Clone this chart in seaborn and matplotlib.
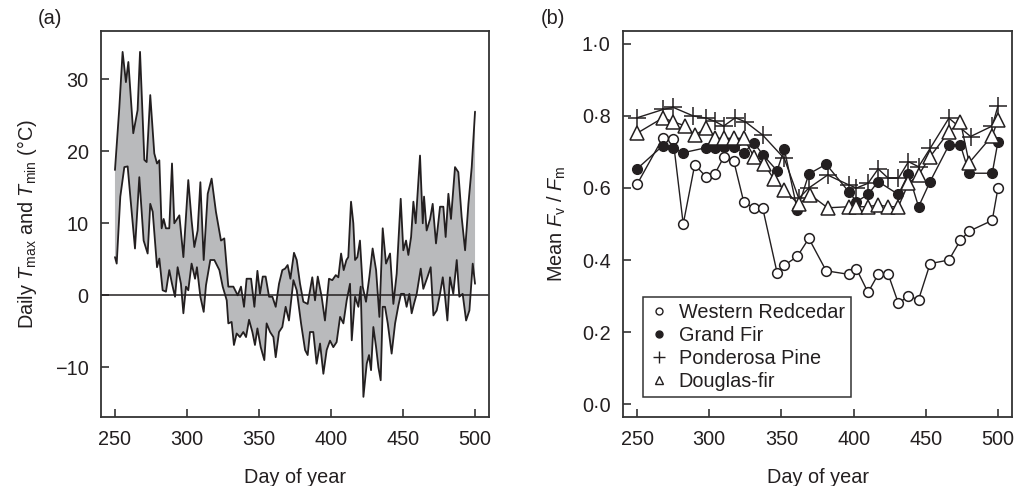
import numpy as np
import pandas as pd
import matplotlib
matplotlib.use("Agg")
import matplotlib.pyplot as plt
from matplotlib.lines import Line2D
import seaborn as sns

# ---------------- Panel (a) data: daily Tmax / Tmin ----------------
tmax_day = [250, 253, 255.3, 257.6, 259.3, 262.7, 265.7, 267.4, 270.4, 272, 274.5, 277.3, 279.2, 280.8,
            282.4, 283.8, 285.4, 287.7, 289.6, 291.2, 294.7, 297.5, 300.9, 303.2, 305.1, 307.4, 309.3,
            311.6, 314.4, 317.1, 320.1, 323.6, 325.9, 328.7, 331.0, 332.2, 335.2, 337.5, 339.6, 341.4,
            344.5, 346.8, 348.9, 350.7, 352.6, 354.6, 357, 359.3, 361.6, 363.9, 366.2, 368.1, 369.9,
            371.8, 374.3, 376.2, 378.5, 380.8, 383.8, 387, 388.9, 390.8, 393.5, 395.8, 398.6, 400.9,
            403.3, 405.1, 407, 408.8, 410.7, 412, 413.9, 415.5, 416.7, 418.3, 420.1, 422, 424.3, 426.6,
            428.9, 431.3, 433.6, 435.9, 438.2, 441, 443.3, 445.6, 448.4, 450.2, 452.1, 453.7, 455.6,
            457.2, 458.8, 461.8, 463.7, 464.6, 466.4, 468.8, 470.6, 472.9, 475.7, 478, 479.6, 481.5,
            483.3, 486.1, 488.4, 490.7, 493.1, 495.4, 497.7, 500]
tmax = [17.4, 26.0, 33.8, 29.6, 32.4, 22.5, 25.7, 33.8, 18.8, 18.5, 27.8, 19.7, 18.3, 18.75,
        9.3, 10.6, 9.3, 9.3, 18.3, 10.0, 11.1, 5.3, 16.0, 10.4, 6.7, 9.0, 15.7,
        4.9, 14.1, 16.2, 11.6, 7.6, 7.9, 1.2, 1.2, 1.2, 0.0, 1.2, -1.6, 2.3,
        2.3, -1.6, 3.4, 0.2, 2.6, 2.6, -0.2, -0.2, -1.6, 1.6, 3.5, 3.7, 4.2,
        2.3, 5.9, 4.9, 1.6, -0.9, -1.2, 2.5, -0.7, 2.6, -0.2, -3.5, 2.3, 2.1,
        2.8, 2.5, 5.8, 3.5, 4.9, 5.3, 13.0, 10.0, 4.9, 5.3, 7.6, 1.2, -0.9, 2.5,
        6.5, 3.5, -3.0, 9.3, 4.4, 5.8, -1.2, 3.0, 13.4, 6.25, 7.6, 5.6, 8.1,
        13.0, 10.0, 19.4, 10.0, 13.7, 9.0, 10.6, 12.7, 7.2, 12.3, 12.3, 8.1, 14.1,
        10.6, 17.8, 17.1, 10.9, 6.25, 12.7, 17.8, 25.5]

tmin_day = [250, 251.2, 253.7, 256.5, 258.8, 261.1, 263.9, 266.9, 269.9, 272.7, 274.5, 276.2, 279.2,
            280.8, 283.1, 285.4, 287.7, 289.6, 291.7, 293.5, 295.8, 297.5, 299.3, 300.9, 303.2, 305.6,
            306.9, 309.3, 311.6, 313.2, 316.2, 319, 322.5, 324.8, 327.6, 328.7, 331.0, 332.6, 334.5,
            336.8, 339.1, 341, 343.1, 345.4, 347.2, 348.9, 351.2, 353.7, 355.3, 357.7, 360, 361.6,
            363.9, 366.2, 368.5, 370.8, 373.9, 376.2, 379.2, 382, 383.8, 385.4, 387.7, 390, 392.4,
            394.7, 397, 399.3, 401.6, 403.9, 406.3, 408.6, 410.9, 413.2, 414.4, 416.7, 419, 420.6,
            422.5, 424.8, 426.4, 427.8, 429.4, 431.3, 432.9, 434.5, 435.9, 437.5, 439.4, 442.1, 444.5,
            446.8, 448.6, 450.7, 452.5, 454.4, 456, 457.6, 459.5, 462.3, 464.1, 466.9, 469.2, 471.1,
            473.4, 475.7, 477.6, 479.2, 480.8, 482.6, 484.9, 487.3, 489.1, 491.4, 493.8, 496.1,
            498.4, 500]
tmin = [5.3, 4.4, 13.7, 17.8, 17.9, 12.7, 6.5, 16.4, 7.6, 5.8, 12.7, 11.6, 3.9,
        5.1, 0.7, 0.5, 3.5, 1.6, -0.2, 3.9, 1.6, -2.5, 1.2, 0.7, 4.4, 2.3,
        3.9, -0.2, -2.3, 1.4, 4.9, 4.9, 3.5, 1.2, -0.7, -3.9, -3.7, -6.9, -5.3,
        -5.8, -5.1, -5.8, -3.4, -5.1, -6.9, -4.6, -7.2, -9.0, -3.9, -5.1, -5.8, -8.6,
        -5.1, -4.4, -1.6, -3.5, 2.1, 0.7, -3.9, -7.6, -8.3, -5.1, -5.1, -9.5, -6.7,
        -10.9, -7.6, -6.3, -7.2, -6.5, -3.0, -3.9, -0.7, 1.6, -6.25, -0.2, -1.6, 1.2,
        -14.1, -9.5, -8.3, -10.4, -4.4, -7.2, -10.0, -11.8, -1.6, -1.6, -3.9, -8.1, -3.9,
        -1.4, 0.2, 0.2, -1.6, 0.2, -2.5, -1.2, 0.2, 3.7, 0.9, 2.5, 3.9, -2.8,
        -2.1, 0.2, 2.5, -0.2, -3.5, 2.5, 0.2, 4.9, -0.2, 0.2, -3.5, -2.1,
        4.4, 1.6]

# ---------------- Panel (b) data: mean Fv/Fm ----------------
wrc_day = [250, 268, 275, 282, 290, 298, 304, 310, 317, 324, 331, 337, 347, 352, 361, 369, 381,
           397, 402, 410, 417, 424, 431, 438, 445, 453, 466, 474, 480, 496, 500]
wrc = [0.61, 0.74, 0.735, 0.50, 0.665, 0.63, 0.64, 0.685, 0.675, 0.56, 0.545, 0.545, 0.365, 0.385,
       0.41, 0.46, 0.37, 0.36, 0.375, 0.31, 0.36, 0.36, 0.28, 0.30, 0.29, 0.39, 0.40, 0.455, 0.48,
       0.51, 0.60]

gf_day = [250, 268, 275, 282, 298, 304, 310, 317, 324, 331, 337, 347, 352, 361, 369, 381, 397,
          402, 410, 417, 431, 438, 445, 453, 466, 474, 480, 496, 500]
gf = [0.653, 0.718, 0.71, 0.698, 0.712, 0.712, 0.715, 0.715, 0.698, 0.726, 0.693, 0.648, 0.708,
      0.539, 0.639, 0.666, 0.588, 0.562, 0.582, 0.618, 0.582, 0.639, 0.548, 0.618, 0.719,
      0.719, 0.641, 0.641, 0.729]

pp_day = [250, 268, 275, 289, 298, 304, 310, 318, 325, 337, 352, 362, 369, 382, 397, 402, 410,
          417, 424, 431, 438, 445, 453, 466, 481, 496, 500]
pp = [0.795, 0.818, 0.824, 0.80, 0.794, 0.785, 0.772, 0.795, 0.784, 0.747, 0.682, 0.571, 0.60,
      0.636, 0.608, 0.60, 0.613, 0.653, 0.627, 0.627, 0.673, 0.659, 0.71, 0.794, 0.743, 0.772, 0.828]

df_day = [250, 268, 275, 283, 290, 298, 304, 310, 317, 324, 331, 338, 345, 352, 362, 370, 382,
          397, 402, 410, 417, 424, 431, 438, 445, 453, 466, 474, 480, 496, 500]
dfir = [0.752, 0.795, 0.784, 0.773, 0.747, 0.766, 0.738, 0.738, 0.738, 0.738, 0.687, 0.666, 0.624,
        0.594, 0.555, 0.581, 0.545, 0.548, 0.548, 0.548, 0.553, 0.548, 0.548, 0.613, 0.636, 0.687,
        0.756, 0.784, 0.67, 0.745, 0.789]

species = ["Western Redcedar", "Grand Fir", "Ponderosa Pine", "Douglas-fir"]

xticks = [250, 300, 350, 400, 450, 500]
a_yticks = [-10, 0, 10, 20, 30]
b_yticks = [0.0, 0.2, 0.4, 0.6, 0.8, 1.0]
b_ylabels = ["0·0", "0·2", "0·4", "0·6", "0·8", "1·0"]

# ---------------- style ----------------
sns.set_theme(style="ticks")
plt.rcParams["font.family"] = ["Liberation Sans", "DejaVu Sans"]
plt.rcParams["mathtext.fontset"] = "custom"
plt.rcParams["mathtext.rm"] = "Liberation Sans"
plt.rcParams["mathtext.it"] = "Liberation Sans:italic"
plt.rcParams["mathtext.bf"] = "Liberation Sans:bold"

FS = 14.3
ink = "#231f20"

fig = plt.figure(figsize=(10.22, 4.86), dpi=100)
axa = fig.add_axes([101 / 1022, 1 - 417 / 486, 388 / 1022, 386 / 486])
axb = fig.add_axes([623 / 1022, 1 - 417 / 486, 389 / 1022, 386 / 486])

for ax in (axa, axb):
    for s in ax.spines.values():
        s.set_color("#333333")
        s.set_linewidth(1.3)
    ax.tick_params(direction="in", length=6, width=1.2, color="#333333",
                   labelsize=FS, labelcolor=ink, pad=9)
    ax.set_xlim(240.3, 509.7)
    ax.set_xticks(xticks)
    ax.set_xlabel("Day of year", fontsize=FS, color=ink, labelpad=14)

# ---- panel (a)
poly_x = np.concatenate([tmax_day, tmin_day[::-1]])
poly_y = np.concatenate([tmax, tmin[::-1]])
axa.fill(poly_x, poly_y, color="#b9babc", lw=0, zorder=1)
axa.axhline(0, color=ink, lw=1.1, zorder=2)
sns.lineplot(x=tmax_day, y=tmax, ax=axa, sort=False, estimator=None, color=ink, lw=1.3, zorder=3)
sns.lineplot(x=tmin_day, y=tmin, ax=axa, sort=False, estimator=None, color=ink, lw=1.3, zorder=3)
axa.set_ylim(-16.9, 36.7)
axa.set_yticks(a_yticks)
axa.set_ylabel(r"Daily $T_{\rm max}$ and $T_{\rm min}$ (°C)", fontsize=FS, color=ink, labelpad=11)

# ---- panel (b)
styles = [
    dict(marker="o", ms=7, mfc="white", mec=ink, mew=1.1),
    dict(marker="o", ms=7, mfc=ink, mec=ink, mew=1.0),
    dict(marker="+", ms=13, mfc="none", mec=ink, mew=1.1),
    dict(marker="^", ms=10, mfc="white", mec=ink, mew=1.1),
]
series = [(wrc_day, wrc), (gf_day, gf), (pp_day, pp), (df_day, dfir)]
for (xd, yd), st in zip(series, styles):
    sns.lineplot(x=xd, y=yd, ax=axb, sort=False, estimator=None, color=ink, lw=1.0, **st)

axb.set_ylim(-0.036, 1.036)
axb.set_yticks(b_yticks)
axb.set_yticklabels(b_ylabels)
axb.set_ylabel(r"Mean $F_{\rm v}$ / $F_{\rm m}$", fontsize=FS, color=ink, labelpad=10)

leg_styles = [
    dict(marker="o", ms=5, mfc="white", mec=ink, mew=1.0),
    dict(marker="o", ms=5, mfc=ink, mec=ink, mew=1.0),
    dict(marker="+", ms=9, mfc="none", mec=ink, mew=1.0),
    dict(marker="^", ms=6, mfc="white", mec=ink, mew=1.0),
]
handles = [Line2D([], [], ls="none", **st) for st in leg_styles]
leg = axb.legend(handles, species, loc="lower left", bbox_to_anchor=(0.051, 0.052),
                 borderaxespad=0, frameon=True, fancybox=False, fontsize=FS,
                 handlelength=1.0, handletextpad=0.5, labelspacing=0.2,
                 borderpad=0.3, framealpha=1)
leg.get_frame().set_edgecolor("#333333")
leg.get_frame().set_linewidth(1.1)
for t in leg.get_texts():
    t.set_color(ink)

fig.text(50 / 1022, 1 - 18 / 486, "(a)", fontsize=FS, color=ink, ha="center", va="center")
fig.text(553 / 1022, 1 - 18 / 486, "(b)", fontsize=FS, color=ink, ha="center", va="center")

fig.savefig("out.png", dpi=100)
